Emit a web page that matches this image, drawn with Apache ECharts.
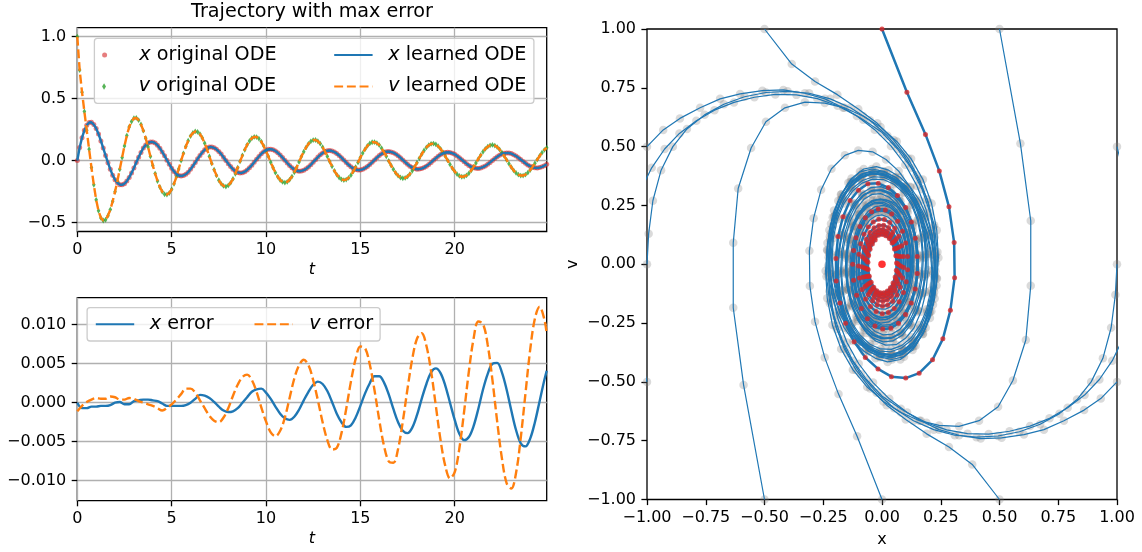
<!DOCTYPE html>
<html><head><meta charset="utf-8">
<script src="https://cdn.jsdelivr.net/npm/echarts@6.0.0/dist/echarts.min.js"></script>
<style>html,body{margin:0;padding:0;background:#fff}#c{width:1142px;height:552px}</style>
</head><body><div id="c"></div>
<script>
// ---------- sampling grid ----------
const T_STEP = 0.125;      // time step of the ODE samples
const T_END = 24.875;      // last sample time
const ERR_STEP = 0.25;     // step of the error samples
const X_TICKS = [0, 5, 10, 15, 20];
const Y_TRAJ_TICKS = [-0.5, 0, 0.5, 1.0];
const Y_ERR_TICKS = [-0.01, -0.005, 0, 0.005, 0.01];

// ---------- trajectory with max error: x(t), v(t) ----------
const X_ORIG = [
 0.000,0.106,0.185,0.244,0.285,0.307,0.309,0.291,0.259,0.215,0.158,0.101,0.040,-0.017,-0.071,-0.119,
 -0.155,-0.179,-0.195,-0.196,-0.187,-0.166,-0.136,-0.100,-0.060,-0.016,0.027,0.066,0.101,0.125,0.142,0.150,
 0.150,0.141,0.124,0.100,0.070,0.038,0.003,-0.030,-0.062,-0.088,-0.108,-0.121,
 -0.125,-0.121,-0.111,-0.094,-0.071,-0.044,-0.016,0.014,0.041,0.066,0.087,0.101,0.109,
 0.109,0.103,0.091,0.073,0.052,0.027,0.001,-0.025,-0.049,-0.070,-0.085,-0.096,-0.100,
 -0.098,-0.090,-0.076,-0.058,-0.037,-0.014,0.010,0.033,0.054,0.071,0.084,0.091,
 0.092,0.087,0.077,0.063,0.045,0.024,0.002,-0.020,-0.040,-0.058,-0.072,-0.082,-0.086,
 -0.084,-0.078,-0.067,-0.052,-0.034,-0.013,0.007,0.028,0.046,0.061,0.073,0.079,
 0.081,0.077,0.069,0.057,0.041,0.023,0.004,-0.016,-0.034,-0.051,-0.064,-0.072,-0.077,
 -0.076,-0.071,-0.061,-0.048,-0.032,-0.014,0.005,0.023,0.040,0.054,0.065,0.071,
 0.073,0.070,0.064,0.053,0.039,0.023,0.005,-0.013,-0.030,-0.045,-0.057,-0.065,-0.070,
 -0.069,-0.065,-0.057,-0.045,-0.031,-0.015,0.003,0.019,0.035,0.048,0.058,0.065,0.067,
 0.065,0.059,0.050,0.037,0.023,0.007,-0.010,-0.025,-0.039,-0.051,-0.059,-0.063,
 -0.064,-0.060,-0.053,-0.043,-0.030,-0.015,0.001,0.016,0.031,0.043,0.053,0.059,0.062,
 0.061,0.056,0.047,0.036,0.023,0.008,-0.007,-0.022,-0.035,-0.046,-0.054,-0.059,
 -0.060,-0.057,-0.051,-0.041,-0.029
];
const V_ORIG = [
 1.000,0.731,0.552,0.396,0.244,0.092,-0.057,-0.196,-0.317,-0.406,-0.463,-0.484,-0.478,-0.445,-0.396,-0.329,
 -0.251,-0.165,-0.071,0.024,0.118,0.202,0.271,0.315,0.342,0.344,0.326,0.292,0.241,0.180,0.110,0.033,
 -0.039,-0.105,-0.165,-0.214,-0.251,-0.272,-0.275,-0.262,-0.232,-0.188,-0.132,-0.068,
 0.000,0.058,0.113,0.160,0.198,0.223,0.235,0.231,0.214,0.183,0.140,0.090,0.033,
 -0.023,-0.074,-0.120,-0.159,-0.188,-0.205,-0.210,-0.201,-0.180,-0.148,-0.107,-0.058,-0.007,
 0.042,0.087,0.127,0.158,0.180,0.191,0.190,0.177,0.153,0.119,0.079,0.033,
 -0.014,-0.058,-0.098,-0.131,-0.157,-0.173,-0.178,-0.172,-0.155,-0.129,-0.095,-0.055,-0.011,
 0.032,0.071,0.106,0.135,0.155,0.165,0.166,0.156,0.136,0.108,0.073,0.033,
 -0.008,-0.047,-0.083,-0.113,-0.137,-0.152,-0.158,-0.154,-0.140,-0.118,-0.088,-0.053,-0.015,
 0.024,0.060,0.092,0.119,0.138,0.148,0.149,0.141,0.125,0.100,0.069,0.034,
 -0.003,-0.038,-0.071,-0.100,-0.122,-0.137,-0.143,-0.140,-0.129,-0.109,-0.083,-0.052,-0.017,
 0.018,0.051,0.081,0.106,0.124,0.135,0.137,0.131,0.116,0.095,0.067,0.035,0.002,
 -0.031,-0.062,-0.088,-0.110,-0.124,-0.131,-0.129,-0.120,-0.103,-0.080,-0.051,-0.020,
 0.013,0.043,0.071,0.095,0.112,0.123,0.126,0.121,0.109,0.090,0.065,0.036,0.005,
 -0.025,-0.054,-0.080,-0.100,-0.114,-0.121,-0.121,-0.113,-0.098,-0.077,-0.051,-0.022,
 0.008,0.037,0.064,0.086,0.103
];

// ---------- errors (learned - original), every 0.25 plus last sample ----------
const X_ERR = [
 0.0000,-0.0007,-0.0007,-0.0005,-0.0005,-0.0004,-0.0004,-0.0003,0.0000,0.0001,-0.0002,-0.0002,
 0.0002,0.0003,0.0004,0.0004,0.0003,0.0002,-0.0001,-0.0004,-0.0004,-0.0004,-0.0004,-0.0003,
 0.0000,0.0005,0.0010,0.0009,0.0006,0.0001,-0.0005,-0.0010,-0.0012,-0.0011,-0.0007,0.0000,
 0.0007,0.0014,0.0017,0.0018,0.0013,0.0005,-0.0005,-0.0014,-0.0020,-0.0022,-0.0018,-0.0009,
 0.0003,0.0014,0.0023,0.0027,0.0024,0.0015,0.0001,-0.0014,-0.0025,-0.0031,-0.0029,-0.0019,
 -0.0004,0.0012,0.0025,0.0034,0.0034,0.0026,0.0011,-0.0008,-0.0025,-0.0036,-0.0039,-0.0032,
 -0.0016,0.0005,0.0024,0.0039,0.0044,0.0038,0.0022,0.0000,-0.0022,-0.0040,-0.0048,-0.0044,
 -0.0030,-0.0008,0.0017,0.0037,0.0050,0.0051,0.0039,0.0017,-0.0010,-0.0035,-0.0052,-0.0056,
 -0.0046,-0.0025,0.0002,0.0029,0.0041
];
const V_ERR = [
 -0.0011,-0.0004,0.0001,0.0004,0.0006,0.0005,0.0005,0.0008,0.0007,0.0004,0.0004,0.0006,
 0.0005,0.0002,0.0000,-0.0002,-0.0004,-0.0007,-0.0010,-0.0007,-0.0002,0.0004,0.0011,0.0018,
 0.0018,0.0013,0.0003,-0.0007,-0.0017,-0.0023,-0.0025,-0.0019,-0.0007,0.0009,0.0023,0.0033,
 0.0036,0.0029,0.0014,-0.0006,-0.0024,-0.0038,-0.0043,-0.0036,-0.0019,0.0006,0.0031,0.0048,
 0.0055,0.0048,0.0029,0.0003,-0.0025,-0.0048,-0.0060,-0.0058,-0.0039,-0.0008,0.0027,0.0056,
 0.0072,0.0070,0.0049,0.0016,-0.0022,-0.0055,-0.0075,-0.0077,-0.0059,-0.0024,0.0018,0.0056,
 0.0082,0.0089,0.0073,0.0040,-0.0004,-0.0048,-0.0081,-0.0097,-0.0089,-0.0058,-0.0011,0.0040,
 0.0082,0.0104,0.0101,0.0074,0.0029,-0.0024,-0.0071,-0.0103,-0.0110,-0.0090,-0.0045,0.0012,
 0.0068,0.0108,0.0123,0.0107,0.0089
];

// ---------- phase portrait: other trajectories [x, v] ----------
const TRAJ_A = [ // from (-1, 0.5)
 [-1,0.5],[-0.931,0.571],[-0.86,0.62],[-0.774,0.665],[-0.689,0.703],[-0.604,0.724],[-0.509,0.738],[-0.42,0.741],
 [-0.328,0.727],[-0.243,0.703],[-0.165,0.665],[-0.08,0.614],[-0.001,0.561],[0.066,0.490],[0.124,0.410],[0.170,0.320],
 [0.204,0.220],[0.224,0.115],[0.229,0.005],[0.221,-0.105],[0.200,-0.205],[0.168,-0.290],[0.126,-0.352],[0.079,-0.385],
 [0.030,-0.393],[-0.019,-0.382],[-0.066,-0.356],[-0.109,-0.317],[-0.148,-0.262],[-0.180,-0.197],[-0.205,-0.122],
 [-0.220,-0.040],[-0.225,0.045],[-0.218,0.130],[-0.198,0.211],[-0.168,0.280],[-0.130,0.333],[-0.087,0.368],
 [-0.040,0.384],[0.008,0.380],[0.055,0.358],[0.098,0.318],[0.134,0.262],[0.162,0.192],[0.179,0.114],[0.186,0.030],
 [0.182,-0.053],[0.168,-0.133],[0.145,-0.203],[0.114,-0.258],[0.077,-0.296],[0.037,-0.315],[-0.004,-0.316],
 [-0.043,-0.300],[-0.079,-0.268],[-0.110,-0.222],[-0.133,-0.164],[-0.148,-0.098],[-0.154,-0.027],[-0.151,0.045],
 [-0.139,0.113],[-0.118,0.174],[-0.090,0.223],[-0.057,0.257],[-0.021,0.274],[0.016,0.274],
 [0.051,0.262],[0.083,0.235],[0.111,0.194],[0.132,0.142],[0.145,0.082],[0.150,0.018],[0.147,-0.046],[0.137,-0.108],
 [0.119,-0.163],[0.095,-0.208],[0.066,-0.240],[0.034,-0.257],[0.001,-0.259],[-0.031,-0.246],[-0.060,-0.219],
 [-0.085,-0.180],[-0.104,-0.131],[-0.116,-0.075],[-0.121,-0.016],[-0.119,0.042],[-0.110,0.097],[-0.095,0.146],
 [-0.074,0.185],[-0.049,0.212],[-0.021,0.226],[0.008,0.226],[0.036,0.213],[0.061,0.187],[0.082,0.150],[0.097,0.104],
 [0.106,0.052],[0.108,-0.002]
];
const TRAJ_A_M = [ // from (1, -0.5)
 [1,-0.5],[0.931,-0.571],[0.86,-0.62],[0.774,-0.665],[0.689,-0.703],[0.604,-0.724],[0.509,-0.738],[0.42,-0.741],
 [0.328,-0.727],[0.243,-0.703],[0.165,-0.665],[0.08,-0.614],[0.001,-0.561],[-0.066,-0.490],[-0.124,-0.410],[-0.170,-0.320],
 [-0.204,-0.220],[-0.224,-0.115],[-0.229,-0.005],[-0.221,0.105],[-0.200,0.205],[-0.168,0.290],[-0.126,0.352],[-0.079,0.385],
 [-0.030,0.393],[0.019,0.382],[0.066,0.356],[0.109,0.317],[0.148,0.262],[0.180,0.197],[0.205,0.122],
 [0.220,0.040],[0.225,-0.045],[0.218,-0.130],[0.198,-0.211],[0.168,-0.280],[0.130,-0.333],[0.087,-0.368],
 [0.040,-0.384],[-0.008,-0.380],[-0.055,-0.358],[-0.098,-0.318],[-0.134,-0.262],[-0.162,-0.192],[-0.179,-0.114],[-0.186,-0.030],
 [-0.182,0.053],[-0.168,0.133],[-0.145,0.203],[-0.114,0.258],[-0.077,0.296],[-0.037,0.315],[0.004,0.316],
 [0.043,0.300],[0.079,0.268],[0.110,0.222],[0.133,0.164],[0.148,0.098],[0.154,0.027],[0.151,-0.045],
 [0.139,-0.113],[0.118,-0.174],[0.090,-0.223],[0.057,-0.257],[0.021,-0.274],[-0.016,-0.274],
 [-0.051,-0.262],[-0.083,-0.235],[-0.111,-0.194],[-0.132,-0.142],[-0.145,-0.082],[-0.150,-0.018],[-0.147,0.046],[-0.137,0.108],
 [-0.119,0.163],[-0.095,0.208],[-0.066,0.240],[-0.034,0.257],[-0.001,0.259],[0.031,0.246],[0.060,0.219],
 [0.085,0.180],[0.104,0.131],[0.116,0.075],[0.121,0.016],[0.119,-0.042],[0.110,-0.097],[0.095,-0.146],
 [0.074,-0.185],[0.049,-0.212],[0.021,-0.226],[-0.008,-0.226],[-0.036,-0.213],[-0.061,-0.187],[-0.082,-0.150],[-0.097,-0.104],
 [-0.106,-0.052],[-0.108,0.002]
];
const TRAJ_B = [ // from (-1, 0)
 [-1,0],[-0.993,0.13],[-0.975,0.27],[-0.94,0.40],[-0.89,0.50],[-0.83,0.575],[-0.755,0.635],[-0.673,0.68],
 [-0.585,0.712],[-0.494,0.73],[-0.402,0.735],[-0.31,0.727],[-0.22,0.703],[-0.134,0.665],[-0.052,0.612],[0.023,0.546],
 [0.090,0.468],[0.147,0.378],[0.192,0.276],[0.222,0.166],[0.236,0.052],[0.234,-0.062],[0.217,-0.172],[0.186,-0.270],
 [0.143,-0.346],[0.094,-0.393],[0.043,-0.405],[-0.008,-0.395],[-0.057,-0.370],[-0.102,-0.333],[-0.143,-0.280],
 [-0.177,-0.215],[-0.203,-0.140],[-0.220,-0.057],[-0.227,0.030],[-0.222,0.118],[-0.204,0.202],[-0.175,0.274],
 [-0.137,0.329],[-0.093,0.366],[-0.046,0.385],[0.003,0.384],[0.051,0.364],[0.095,0.327],[0.132,0.273],[0.161,0.205],
 [0.180,0.127],[0.188,0.043],[0.185,-0.041],[0.172,-0.122],[0.150,-0.194],[0.120,-0.251],[0.084,-0.291],[0.044,-0.312],
 [0.003,-0.315],[-0.037,-0.300],[-0.073,-0.270],[-0.104,-0.225],
 [-0.129,-0.170],[-0.146,-0.107],[-0.155,-0.040],[-0.155,0.028],[-0.147,0.094],[-0.131,0.155],[-0.107,0.207],
 [-0.077,0.246],[-0.043,0.270],[-0.007,0.278],[0.028,0.270],[0.061,0.247],[0.089,0.211],[0.111,0.164],[0.125,0.110],
 [0.132,0.051],[0.131,-0.009],[0.123,-0.067],[0.108,-0.120],[0.087,-0.165],[0.061,-0.199],[0.032,-0.220],[0.002,-0.227],
 [-0.027,-0.221],[-0.054,-0.202],[-0.077,-0.171],[-0.095,-0.130],[-0.106,-0.082],[-0.111,-0.030]
];
const TRAJ_B_M = [ // from (1, 0)
 [1,0],[0.993,-0.13],[0.975,-0.27],[0.94,-0.40],[0.89,-0.50],[0.83,-0.575],[0.755,-0.635],[0.673,-0.68],
 [0.585,-0.712],[0.494,-0.73],[0.402,-0.735],[0.31,-0.727],[0.22,-0.703],[0.134,-0.665],[0.052,-0.612],[-0.023,-0.546],
 [-0.090,-0.468],[-0.147,-0.378],[-0.192,-0.276],[-0.222,-0.166],[-0.236,-0.052],[-0.234,0.062],[-0.217,0.172],[-0.186,0.270],
 [-0.143,0.346],[-0.094,0.393],[-0.043,0.405],[0.008,0.395],[0.057,0.370],[0.102,0.333],[0.143,0.280],
 [0.177,0.215],[0.203,0.140],[0.220,0.057],[0.227,-0.030],[0.222,-0.118],[0.204,-0.202],[0.175,-0.274],
 [0.137,-0.329],[0.093,-0.366],[0.046,-0.385],[-0.003,-0.384],[-0.051,-0.364],[-0.095,-0.327],[-0.132,-0.273],[-0.161,-0.205],
 [-0.180,-0.127],[-0.188,-0.043],[-0.185,0.041],[-0.172,0.122],[-0.150,0.194],[-0.120,0.251],[-0.084,0.291],[-0.044,0.312],
 [-0.003,0.315],[0.037,0.300],[0.073,0.270],[0.104,0.225],
 [0.129,0.170],[0.146,0.107],[0.155,0.040],[0.155,-0.028],[0.147,-0.094],[0.131,-0.155],[0.107,-0.207],
 [0.077,-0.246],[0.043,-0.270],[0.007,-0.278],[-0.028,-0.270],[-0.061,-0.247],[-0.089,-0.211],[-0.111,-0.164],[-0.125,-0.110],
 [-0.132,-0.051],[-0.131,0.009],[-0.123,0.067],[-0.108,0.120],[-0.087,0.165],[-0.061,0.199],[-0.032,0.220],[-0.002,0.227],
 [0.027,0.221],[0.054,0.202],[0.077,0.171],[0.095,0.130],[0.106,0.082],[0.111,0.030]
];
const TRAJ_C = [ // from (-1, -0.5), leaves the box and comes back
 [-1,-0.5],[-1.05,-0.3],[-1.073,-0.12],[-1.075,0.05],[-1.058,0.2],[-1.024,0.32],[-0.98,0.41],[-0.925,0.49],
 [-0.862,0.556],[-0.79,0.61],[-0.713,0.655],[-0.63,0.688],[-0.543,0.71],[-0.454,0.722],[-0.364,0.72],[-0.275,0.704],
 [-0.189,0.674],[-0.107,0.63],[-0.031,0.572],[0.038,0.503],[0.099,0.423],[0.149,0.333],[0.187,0.234],[0.212,0.128],
 [0.222,0.019],[0.218,-0.09],[0.2,-0.192],[0.171,-0.278],[0.132,-0.342],[0.086,-0.378],[0.037,-0.388],[-0.011,-0.378],
 [-0.058,-0.353],[-0.101,-0.315],[-0.140,-0.262],[-0.172,-0.197],[-0.196,-0.123],[-0.211,-0.042],[-0.216,0.041],
 [-0.210,0.124],[-0.192,0.202],[-0.163,0.270],[-0.126,0.322],[-0.083,0.356],[-0.037,0.372],[0.010,0.369],[0.055,0.347],
 [0.096,0.308],[0.130,0.254],[0.155,0.187],[0.170,0.110],[0.176,0.028],[0.172,-0.053],[0.159,-0.129],
 [0.139,-0.196],[0.112,-0.251],[0.080,-0.290],[0.045,-0.311],[0.008,-0.314],[-0.028,-0.300],[-0.062,-0.270],
 [-0.091,-0.227],[-0.114,-0.173],[-0.129,-0.111],[-0.136,-0.045],[-0.135,0.021],[-0.126,0.085],[-0.110,0.142],
 [-0.087,0.190],[-0.059,0.225],[-0.028,0.245],[0.005,0.250],[0.037,0.240],[0.066,0.215],[0.091,0.178],[0.109,0.131],
 [0.120,0.077],[0.124,0.020],[0.121,-0.037],[0.111,-0.091],[0.095,-0.139],[0.074,-0.177]
];
const TRAJ_C_M = [ // from (1, 0.5)
 [1,0.5],[1.05,0.3],[1.073,0.12],[1.075,-0.05],[1.058,-0.2],[1.024,-0.32],[0.98,-0.41],[0.925,-0.49],
 [0.862,-0.556],[0.79,-0.61],[0.713,-0.655],[0.63,-0.688],[0.543,-0.71],[0.454,-0.722],[0.364,-0.72],[0.275,-0.704],
 [0.189,-0.674],[0.107,-0.63],[0.031,-0.572],[-0.038,-0.503],[-0.099,-0.423],[-0.149,-0.333],[-0.187,-0.234],[-0.212,-0.128],
 [-0.222,-0.019],[-0.218,0.09],[-0.2,0.192],[-0.171,0.278],[-0.132,0.342],[-0.086,0.378],[-0.037,0.388],[0.011,0.378],
 [0.058,0.353],[0.101,0.315],[0.140,0.262],[0.172,0.197],[0.196,0.123],[0.211,0.042],[0.216,-0.041],
 [0.210,-0.124],[0.192,-0.202],[0.163,-0.270],[0.126,-0.322],[0.083,-0.356],[0.037,-0.372],[-0.010,-0.369],[-0.055,-0.347],
 [-0.096,-0.308],[-0.130,-0.254],[-0.155,-0.187],[-0.170,-0.110],[-0.176,-0.028],[-0.172,0.053],[-0.159,0.129],
 [-0.139,0.196],[-0.112,0.251],[-0.080,0.290],[-0.045,0.311],[-0.008,0.314],[0.028,0.300],[0.062,0.270],
 [0.091,0.227],[0.114,0.173],[0.129,0.111],[0.136,0.045],[0.135,-0.021],[0.126,-0.085],[0.110,-0.142],
 [0.087,-0.190],[0.059,-0.225],[0.028,-0.245],[-0.005,-0.250],[-0.037,-0.240],[-0.066,-0.215],[-0.091,-0.178],[-0.109,-0.131],
 [-0.120,-0.077],[-0.124,-0.020],[-0.121,0.037],[-0.111,0.091],[-0.095,0.139],[-0.074,0.177]
];
const TRAJ_D = [ // from (-0.5, 1)
 [-0.5,1],[-0.384,0.851],[-0.285,0.777],[-0.19,0.721],[-0.101,0.66],[-0.02,0.599],[0.05,0.528],[0.111,0.449],
 [0.16,0.36],[0.197,0.262],[0.219,0.157],[0.228,0.049],[0.225,-0.058],[0.209,-0.162],[0.18,-0.254],[0.14,-0.325],
 [0.094,-0.37],[0.045,-0.385],[-0.004,-0.378],[-0.051,-0.355],[-0.094,-0.318],[-0.133,-0.267],[-0.165,-0.205],
 [-0.19,-0.133],[-0.206,-0.054],[-0.212,0.029],[-0.207,0.112],[-0.19,0.191],[-0.162,0.258],[-0.126,0.31],
 [-0.085,0.345],[-0.04,0.362],[0.006,0.36],[0.051,0.34],[0.092,0.303],[0.126,0.252],[0.151,0.188],[0.166,0.115],
 [0.172,0.036],[0.168,-0.043],[0.155,-0.118],
 [0.135,-0.184],[0.108,-0.238],[0.077,-0.276],[0.042,-0.297],[0.006,-0.300],[-0.029,-0.286],[-0.061,-0.257],
 [-0.089,-0.216],[-0.110,-0.164],[-0.124,-0.105],[-0.130,-0.042],[-0.128,0.021],[-0.119,0.082],[-0.103,0.136],
 [-0.081,0.181],[-0.054,0.214],[-0.024,0.233],[0.007,0.237],[0.037,0.227],[0.065,0.203],[0.088,0.168],[0.105,0.123],
 [0.115,0.072],[0.118,0.018],[0.115,-0.036],[0.106,-0.087]
];
const TRAJ_D_M = [ // from (0.5, -1)
 [0.5,-1],[0.384,-0.851],[0.285,-0.777],[0.19,-0.721],[0.101,-0.66],[0.02,-0.599],[-0.05,-0.528],[-0.111,-0.449],
 [-0.16,-0.36],[-0.197,-0.262],[-0.219,-0.157],[-0.228,-0.049],[-0.225,0.058],[-0.209,0.162],[-0.18,0.254],[-0.14,0.325],
 [-0.094,0.37],[-0.045,0.385],[0.004,0.378],[0.051,0.355],[0.094,0.318],[0.133,0.267],[0.165,0.205],
 [0.19,0.133],[0.206,0.054],[0.212,-0.029],[0.207,-0.112],[0.19,-0.191],[0.162,-0.258],[0.126,-0.31],
 [0.085,-0.345],[0.04,-0.362],[-0.006,-0.36],[-0.051,-0.34],[-0.092,-0.303],[-0.126,-0.252],[-0.151,-0.188],[-0.166,-0.115],
 [-0.172,-0.036],[-0.168,0.043],[-0.155,0.118],
 [-0.135,0.184],[-0.108,0.238],[-0.077,0.276],[-0.042,0.297],[-0.006,0.300],[0.029,0.286],[0.061,0.257],
 [0.089,0.216],[0.110,0.164],[0.124,0.105],[0.130,0.042],[0.128,-0.021],[0.119,-0.082],[0.103,-0.136],
 [0.081,-0.181],[0.054,-0.214],[0.024,-0.233],[-0.007,-0.237],[-0.037,-0.227],[-0.065,-0.203],[-0.088,-0.168],[-0.105,-0.123],
 [-0.115,-0.072],[-0.118,-0.018],[-0.115,0.036],[-0.106,0.087]
];
const TRAJ_E = [ // from (0.5, 1)
 [0.5,1],[0.589,0.513],[0.633,0.185],[0.633,-0.091],[0.612,-0.322],[0.557,-0.494],[0.494,-0.606],[0.413,-0.665],
 [0.328,-0.689],[0.243,-0.685],[0.16,-0.665],[0.081,-0.63],[0.006,-0.583],[-0.063,-0.522],[-0.124,-0.448],[-0.174,-0.36],
 [-0.211,-0.258],[-0.233,-0.145],[-0.24,-0.028],[-0.232,0.09],[-0.21,0.2],[-0.175,0.295],[-0.13,0.365],[-0.078,0.405],
 [-0.024,0.415],[0.028,0.4],[0.077,0.37],[0.122,0.326],[0.161,0.27],[0.192,0.2],[0.215,0.12],[0.229,0.032],
 [0.232,-0.058],[0.224,-0.146],[0.204,-0.228],[0.173,-0.298],[0.134,-0.35],[0.089,-0.383],[0.041,-0.397],[-0.008,-0.392],
 [-0.056,-0.37],[-0.1,-0.33],[-0.137,-0.275],[-0.165,-0.207],[-0.183,-0.128],[-0.19,-0.043],[-0.187,0.042],[-0.174,0.123],
 [-0.152,0.197],[-0.122,0.258],[-0.086,0.302],[-0.046,0.326],[-0.005,0.330],[0.036,0.314],[0.073,0.281],[0.105,0.233],
 [0.130,0.174],[0.146,0.107],[0.153,0.036],[0.151,-0.035],[0.140,-0.103],[0.121,-0.163],[0.095,-0.212],[0.064,-0.246],
 [0.030,-0.263],[-0.004,-0.264],[-0.037,-0.249],[-0.066,-0.221],[-0.091,-0.181],[-0.109,-0.132],[-0.120,-0.077],
 [-0.124,-0.019],[-0.121,0.039],[-0.111,0.093],[-0.095,0.141],[-0.074,0.180]
];
const TRAJ_E_M = [ // from (-0.5, -1)
 [-0.5,-1],[-0.589,-0.513],[-0.633,-0.185],[-0.633,0.091],[-0.612,0.322],[-0.557,0.494],[-0.494,0.606],[-0.413,0.665],
 [-0.328,0.689],[-0.243,0.685],[-0.16,0.665],[-0.081,0.63],[-0.006,0.583],[0.063,0.522],[0.124,0.448],[0.174,0.36],
 [0.211,0.258],[0.233,0.145],[0.24,0.028],[0.232,-0.09],[0.21,-0.2],[0.175,-0.295],[0.13,-0.365],[0.078,-0.405],
 [0.024,-0.415],[-0.028,-0.4],[-0.077,-0.37],[-0.122,-0.326],[-0.161,-0.27],[-0.192,-0.2],[-0.215,-0.12],[-0.229,-0.032],
 [-0.232,0.058],[-0.224,0.146],[-0.204,0.228],[-0.173,0.298],[-0.134,0.35],[-0.089,0.383],[-0.041,0.397],[0.008,0.392],
 [0.056,0.37],[0.1,0.33],[0.137,0.275],[0.165,0.207],[0.183,0.128],[0.19,0.043],[0.187,-0.042],[0.174,-0.123],
 [0.152,-0.197],[0.122,-0.258],[0.086,-0.302],[0.046,-0.326],[0.005,-0.330],[-0.036,-0.314],[-0.073,-0.281],[-0.105,-0.233],
 [-0.130,-0.174],[-0.146,-0.107],[-0.153,-0.036],[-0.151,0.035],[-0.140,0.103],[-0.121,0.163],[-0.095,0.212],[-0.064,0.246],
 [-0.030,0.263],[0.004,0.264],[0.037,0.249],[0.066,0.221],[0.091,0.181],[0.109,0.132],[0.120,0.077],
 [0.124,0.019],[0.121,-0.039],[0.111,-0.093],[0.095,-0.141],[0.074,-0.180]
];
const TRAJ_F = [ // from (0, -1)
 [0,-1],[-0.106,-0.731],[-0.185,-0.552],[-0.244,-0.396],[-0.285,-0.244],[-0.307,-0.092],[-0.309,0.057],[-0.291,0.196],
 [-0.259,0.317],[-0.215,0.406],[-0.158,0.463],[-0.101,0.484],[-0.040,0.478],[0.017,0.445],[0.071,0.396],[0.119,0.329],
 [0.155,0.251],[0.179,0.165],[0.195,0.071],[0.196,-0.024],[0.187,-0.118],[0.166,-0.202],[0.136,-0.271],[0.100,-0.315],
 [0.060,-0.342],[0.016,-0.344],[-0.027,-0.326],[-0.066,-0.292],[-0.101,-0.241],[-0.125,-0.180],[-0.142,-0.110],[-0.150,-0.033],
 [-0.150,0.039],[-0.141,0.105],[-0.124,0.165],[-0.100,0.214],[-0.070,0.251],[-0.038,0.272],[-0.003,0.275],[0.030,0.262],
 [0.062,0.232],[0.088,0.188],[0.108,0.132],[0.121,0.068],[0.125,0],[0.121,-0.058],[0.111,-0.113],[0.094,-0.160],
 [0.071,-0.198],[0.044,-0.223],[0.016,-0.235],[-0.014,-0.231],[-0.041,-0.214],[-0.066,-0.183],[-0.087,-0.140],[-0.101,-0.090],[-0.109,-0.033],
 [-0.109,0.023],[-0.103,0.074],[-0.091,0.120],[-0.073,0.159],[-0.052,0.188],[-0.027,0.205],[-0.001,0.210],[0.025,0.201],
 [0.049,0.180],[0.070,0.148],[0.085,0.107],[0.096,0.058],[0.100,0.007],[0.098,-0.042],[0.090,-0.087],[0.076,-0.127],
 [0.058,-0.158],[0.037,-0.180],[0.014,-0.191],[-0.010,-0.190],[-0.033,-0.177],[-0.054,-0.153],[-0.071,-0.119],[-0.084,-0.079],[-0.091,-0.033]
];
const OTHER_TRAJ = [TRAJ_A, TRAJ_A_M, TRAJ_B, TRAJ_B_M, TRAJ_C, TRAJ_C_M, TRAJ_D, TRAJ_D_M, TRAJ_E, TRAJ_E_M, TRAJ_F];
const EQUILIBRIUM = [[0, 0]];

// ---------- helpers ----------
const FONT = 'DejaVu Sans';
const BLUE = '#1f77b4', ORANGE = '#ff7f0e', RED = '#d62728', GREEN = '#2ca02c';
const T = X_ORIG.map((_, i) => i * T_STEP);
const T_ERR = X_ERR.map((_, i) => (i < X_ERR.length - 1 ? i * ERR_STEP : T_END));
const zip = (a, b) => a.map((v, i) => [v, b[i]]);
const fmt = d => v => (v < -1e-12 ? '\u2212' : '') + Math.abs(v).toFixed(d);
const LBL = { color: '#000', fontSize: 16, fontFamily: FONT };
const TICK = { length: 5.6, lineStyle: { color: '#000', width: 1.3 } };
const GRIDLINE = { show: true, lineStyle: { color: '#b0b0b0', width: 1.3 } };
const NOLINE = { show: false, onZero: false };
const THIN_DIAMOND = 'path://M0,-5L3,0L0,5L-3,0Z';

function legendItem(name, left, rowY, itemH, icon, padL) {
  const o = {
    data: [name], left: left, top: rowY - 11, orient: 'horizontal', padding: 0,
    itemWidth: 38.4, itemHeight: itemH, selectedMode: false, z: 60,
    formatter: n => '{i|' + n.charAt(0) + '}' + n.slice(1),
    textStyle: { fontSize: 19.2, fontFamily: FONT, color: '#000', lineHeight: 22, padding: [0, 0, 0, padL],
      rich: { i: { fontStyle: 'italic', fontSize: 19.2, fontFamily: FONT, color: '#000', lineHeight: 22 } } }
  };
  if (icon) o.icon = icon;
  else o.itemStyle = { opacity: 0, borderWidth: 0 };   // line handle only, no marker
  return o;
}

const series = [
  { name: 'x original ODE', type: 'scatter', xAxisIndex: 0, yAxisIndex: 0, data: zip(T, X_ORIG),
    symbol: 'circle', symbolSize: 5, itemStyle: { color: 'rgba(214,39,40,0.75)' }, z: 2, silent: true },
  { name: 'v original ODE', type: 'scatter', xAxisIndex: 0, yAxisIndex: 0, data: zip(T, V_ORIG),
    symbol: THIN_DIAMOND, symbolSize: [3.6, 5.8], itemStyle: { color: GREEN }, z: 2, silent: true },
  { name: 'x learned ODE', type: 'line', xAxisIndex: 0, yAxisIndex: 0, data: zip(T, X_ORIG), symbol: 'none',
    itemStyle: { color: BLUE }, lineStyle: { color: BLUE, width: 2.4 }, z: 3, silent: true },
  { name: 'v learned ODE', type: 'line', xAxisIndex: 0, yAxisIndex: 0, data: zip(T, V_ORIG), symbol: 'none',
    itemStyle: { color: ORANGE }, lineStyle: { color: ORANGE, width: 2.4, type: [8.9, 3.8] }, z: 3, silent: true },
  { name: 'x error', type: 'line', xAxisIndex: 1, yAxisIndex: 1, data: zip(T_ERR, X_ERR), symbol: 'none', smooth: 0.35,
    itemStyle: { color: BLUE }, lineStyle: { color: BLUE, width: 2.4 }, z: 3, silent: true },
  { name: 'v error', type: 'line', xAxisIndex: 1, yAxisIndex: 1, data: zip(T_ERR, V_ERR), symbol: 'none', smooth: 0.35,
    itemStyle: { color: ORANGE }, lineStyle: { color: ORANGE, width: 2.4, type: [8.9, 3.8] }, z: 3, silent: true }
];
OTHER_TRAJ.forEach((tr, k) => {
  series.push({ name: 'orig' + k, type: 'scatter', xAxisIndex: 2, yAxisIndex: 2, data: tr, symbolSize: 8.5,
    itemStyle: { color: 'rgba(128,128,128,0.36)' }, z: 1, silent: true, clip: true });
  series.push({ name: 'learned' + k, type: 'line', xAxisIndex: 2, yAxisIndex: 2, data: tr, symbol: 'none',
    lineStyle: { color: BLUE, width: 1.2 }, z: 2, silent: true, clip: true });
});
series.push({ name: 'max learned', type: 'line', xAxisIndex: 2, yAxisIndex: 2, data: zip(X_ORIG, V_ORIG), symbol: 'none',
  lineStyle: { color: BLUE, width: 2.5 }, z: 3, silent: true, clip: true });
series.push({ name: 'max orig', type: 'scatter', xAxisIndex: 2, yAxisIndex: 2, data: zip(X_ORIG, V_ORIG), symbolSize: 5,
  itemStyle: { color: RED }, z: 4, silent: true, clip: true });
series.push({ name: 'equilibrium', type: 'scatter', xAxisIndex: 2, yAxisIndex: 2, data: EQUILIBRIUM, symbolSize: 7.5,
  itemStyle: { color: '#ff0000' }, z: 5, silent: true });

const option = {
  animation: false,
  backgroundColor: '#fff',
  title: { text: 'Trajectory with max error', left: 312, top: 3, padding: 0, textAlign: 'center',
    textStyle: { fontSize: 19.2, fontWeight: 'normal', color: '#000', fontFamily: FONT } },
  grid: [
    { left: 77.3, top: 27.7, width: 469.4, height: 203.8, show: true, borderColor: '#000', borderWidth: 1.3, backgroundColor: 'transparent', outerBoundsMode: 'none' },
    { left: 77.3, top: 297.7, width: 469.4, height: 203, show: true, borderColor: '#000', borderWidth: 1.3, backgroundColor: 'transparent', outerBoundsMode: 'none' },
    { left: 647, top: 29, width: 470, height: 470.5, show: true, borderColor: '#000', borderWidth: 1.3, backgroundColor: 'transparent', outerBoundsMode: 'none' }
  ],
  xAxis: [
    { gridIndex: 0, type: 'value', min: 0, max: T_END, axisLine: NOLINE, position: 'bottom',
      axisTick: Object.assign({ customValues: X_TICKS }, TICK),
      axisLabel: Object.assign({ customValues: X_TICKS, margin: 10, formatter: v => String(v) }, LBL),
      splitLine: GRIDLINE, name: 't', nameLocation: 'middle', nameGap: 30,
      nameTextStyle: Object.assign({ fontStyle: 'italic' }, LBL) },
    { gridIndex: 1, type: 'value', min: 0, max: T_END, axisLine: NOLINE, position: 'bottom',
      axisTick: Object.assign({ customValues: X_TICKS }, TICK),
      axisLabel: Object.assign({ customValues: X_TICKS, margin: 10, formatter: v => String(v) }, LBL),
      splitLine: GRIDLINE, name: 't', nameLocation: 'middle', nameGap: 30,
      nameTextStyle: Object.assign({ fontStyle: 'italic' }, LBL) },
    { gridIndex: 2, type: 'value', min: -1, max: 1, interval: 0.25, axisLine: NOLINE, position: 'bottom',
      axisTick: TICK, axisLabel: Object.assign({ margin: 10, formatter: fmt(2) }, LBL),
      splitLine: { show: false }, name: 'x', nameLocation: 'middle', nameGap: 32, nameTextStyle: LBL }
  ],
  yAxis: [
    { gridIndex: 0, type: 'value', min: -0.573, max: 1.073, axisLine: NOLINE, position: 'left',
      axisTick: Object.assign({ customValues: Y_TRAJ_TICKS }, TICK),
      axisLabel: Object.assign({ customValues: Y_TRAJ_TICKS, margin: 11, formatter: fmt(1) }, LBL),
      splitLine: GRIDLINE },
    { gridIndex: 1, type: 'value', min: -0.01256, max: 0.01346, axisLine: NOLINE, position: 'left',
      axisTick: Object.assign({ customValues: Y_ERR_TICKS }, TICK),
      axisLabel: Object.assign({ customValues: Y_ERR_TICKS, margin: 11, formatter: fmt(3) }, LBL),
      splitLine: GRIDLINE },
    { gridIndex: 2, type: 'value', min: -1, max: 1, interval: 0.25, axisLine: NOLINE, position: 'left',
      axisTick: TICK, axisLabel: Object.assign({ margin: 11, formatter: fmt(2) }, LBL),
      splitLine: { show: false }, name: 'v', nameLocation: 'middle', nameRotate: 90, nameGap: 66, nameTextStyle: LBL }
  ],
  legend: [
    legendItem('x original ODE', 102.1, 55, 5, 'circle', 10.5),
    legendItem('v original ODE', 102.1, 86.5, 6.5, THIN_DIAMOND, 10.5),
    legendItem('x learned ODE', 333.2, 55, 14, null, 10.7),
    legendItem('v learned ODE', 333.2, 86.5, 14, null, 10.7),
    legendItem('x error', 94.8, 324.3, 14, null, 10.6),
    legendItem('v error', 253.5, 324.3, 14, null, 11.4)
  ],
  graphic: [
    { type: 'rect', z: 50, silent: true, shape: { x: 94.4, y: 38.3, width: 439.5, height: 65, r: 3 },
      style: { fill: 'rgba(255,255,255,0.8)', stroke: '#cccccc', lineWidth: 1.3 } },
    { type: 'rect', z: 50, silent: true, shape: { x: 87.1, y: 307.7, width: 293, height: 33.3, r: 3 },
      style: { fill: 'rgba(255,255,255,0.8)', stroke: '#cccccc', lineWidth: 1.3 } }
  ],
  series: series
};
const chart = echarts.init(document.getElementById('c'), null, { renderer: 'canvas', width: 1142, height: 552 });
chart.setOption(option);
</script></body></html>
